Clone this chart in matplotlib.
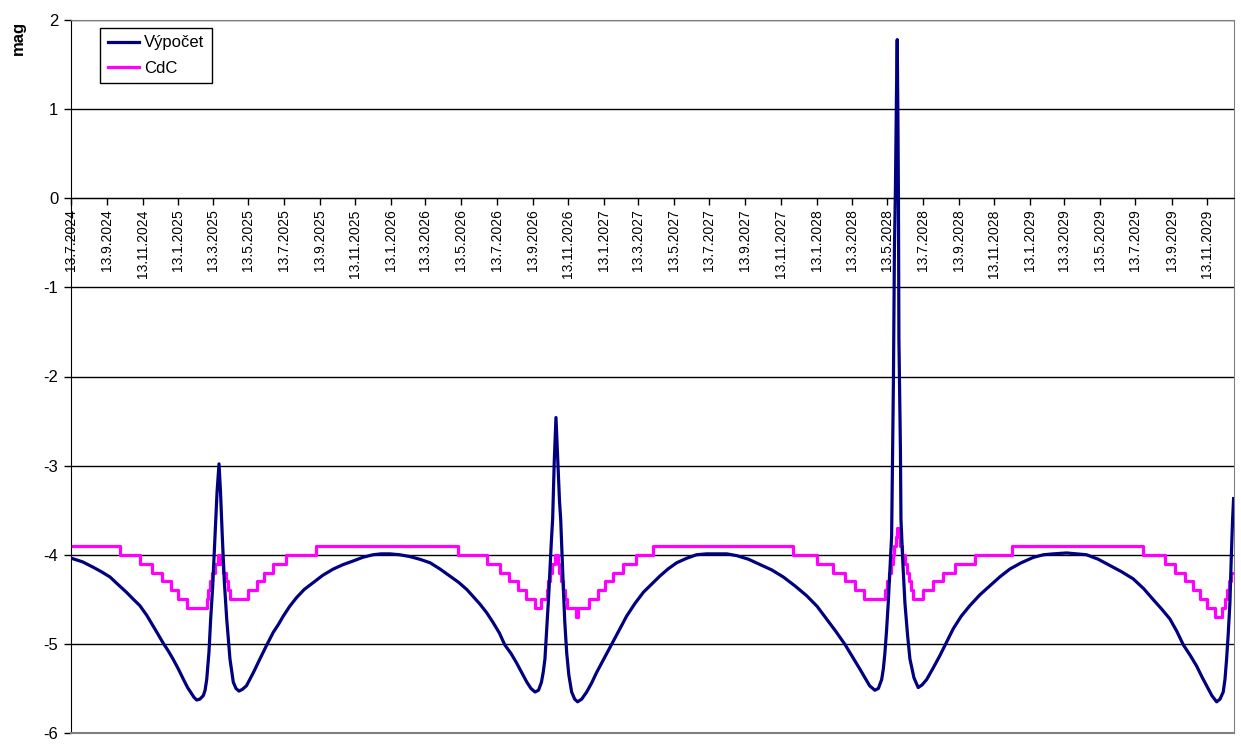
import matplotlib
matplotlib.use('Agg')
import matplotlib.pyplot as plt
import pandas as pd

plt.rcParams['font.family'] = ['Liberation Sans', 'DejaVu Sans']

start = pd.Timestamp('2024-07-13')

# Výpočet (calculated magnitude): days since 13.7.2024, magnitude
vyp_days = [1, 20, 38, 52, 67, 80, 95, 107, 118, 130, 141, 150, 158, 167, 175, 184,
            193, 200, 207, 211, 215.6, 221, 227, 230, 232.8, 236.7, 239.6, 243.1,
            247, 250.5, 253.9, 256.5, 259.5, 263, 267.1, 272.7, 278.4, 283, 288.2,
            294, 301, 313, 324, 336, 347, 356, 364, 375, 387, 400, 416, 432, 450,
            467, 484, 500, 518, 532, 547, 564, 581, 598, 616, 633, 650, 665, 679,
            690, 701, 713, 724, 735, 744, 755, 764, 773, 782, 789, 796, 802, 807,
            810, 813, 815, 817, 819.5, 821.6, 824, 826.2, 829, 831.9, 835, 838, 840,
            844.4, 847, 850.3, 854, 858.8, 864, 869, 876, 884.6, 893, 901.7, 914,
            927, 940, 953, 967, 982, 996, 1010, 1024, 1039, 1056, 1073, 1090, 1108,
            1125, 1142, 1162, 1182, 1202, 1222, 1242, 1262, 1280, 1296, 1312, 1328,
            1341, 1353, 1362, 1370, 1379, 1385, 1390.6, 1393.5, 1396.2, 1399,
            1401.9, 1405, 1407.7, 1410.8, 1412.5, 1414.2, 1415.9, 1417.3, 1418.5,
            1419.4, 1420.2, 1421.1, 1422.8, 1423.7, 1427, 1430.5, 1435, 1439.1,
            1446, 1453.3, 1460, 1467.8, 1479, 1490.6, 1502, 1513.4, 1527, 1542,
            1559, 1576, 1593, 1610.6, 1630, 1650.6, 1668, 1685, 1708, 1725, 1742,
            1762, 1782, 1802, 1822, 1840, 1856, 1871, 1885, 1897, 1908, 1920, 1931,
            1940, 1948, 1957, 1965.2, 1971, 1976.5, 1979.5, 1982.3, 1985, 1988,
            1990.5, 1992.6, 1994.3]
vyp_mag = [-4.04, -4.08, -4.14, -4.19, -4.25, -4.33, -4.42, -4.50, -4.57, -4.68, -4.80,
           -4.90, -4.99, -5.08, -5.17, -5.28, -5.40, -5.49, -5.56, -5.60, -5.63, -5.62,
           -5.58, -5.52, -5.40, -5.09, -4.72, -4.35, -3.79, -3.30, -2.98, -3.30,
           -3.79, -4.30, -4.72, -5.17, -5.43, -5.50, -5.53, -5.51, -5.47, -5.32,
           -5.17, -5.01, -4.87, -4.78, -4.69, -4.58, -4.48, -4.39, -4.31, -4.23,
           -4.16, -4.11, -4.07, -4.03, -4.00, -3.99, -3.99, -4.00, -4.02, -4.05,
           -4.09, -4.16, -4.24, -4.31, -4.39, -4.47, -4.55, -4.65, -4.76, -4.88,
           -5.01, -5.11, -5.21, -5.32, -5.43, -5.50, -5.54, -5.52, -5.43, -5.32,
           -5.17, -4.95, -4.72, -4.45, -4.16, -3.85, -3.60, -2.95, -2.46, -2.95,
           -3.40, -3.60, -4.35, -4.75, -5.10, -5.35, -5.54, -5.62, -5.65, -5.62,
           -5.54, -5.44, -5.32, -5.17, -5.01, -4.85, -4.69, -4.55, -4.42, -4.33,
           -4.24, -4.16, -4.09, -4.04, -4.00, -3.99, -3.99, -3.99, -4.01, -4.05,
           -4.11, -4.17, -4.25, -4.35, -4.46, -4.58, -4.72, -4.86, -5.01, -5.15,
           -5.28, -5.38, -5.47, -5.52, -5.50, -5.40, -5.28, -5.10, -4.85, -4.54,
           -4.15, -3.79, -2.03, -0.57, 0.10, 1.11, 1.78, 0.89, -0.01, -1.58,
           -2.03, -2.82, -3.60, -4.10, -4.54, -4.90, -5.17, -5.38, -5.49, -5.46,
           -5.40, -5.27, -5.13, -4.98, -4.83, -4.69, -4.57, -4.45, -4.35, -4.25,
           -4.16, -4.09, -4.03, -4.00, -3.99, -3.98, -3.99, -4.00, -4.05, -4.12,
           -4.19, -4.27, -4.38, -4.50, -4.61, -4.72, -4.86, -5.01, -5.13, -5.25,
           -5.37, -5.47, -5.58, -5.65, -5.62, -5.54, -5.40, -5.17, -4.90, -4.54,
           -4.00, -3.60, -3.37]

# CdC: days since 13.7.2024 where the value changes, and the new value
cdc_days = [0, 84.0, 118.4, 138.4, 156.1, 171.5, 184.0, 199.0, 232.8, 235.8, 238.4,
            241.8, 247.0, 252.7, 256.4, 260.7, 265.9, 269.3, 272.7, 304.1, 319.0,
            331.9, 347.0, 368.8, 420.2, 664.3, 713.0, 735.8, 751.8, 767.2, 780.4,
            796.7, 806.2, 815.9, 819.0, 822.5, 825.9, 831.0, 835.3, 837.9, 841.3,
            843.9, 848.2, 851.6, 867.1, 870.5, 889.0, 904.5, 916.0, 930.2, 947.3,
            969.1, 998.8, 1238.9, 1279.1, 1307.5, 1327.6, 1344.7, 1361.1, 1396.2,
            1400.5, 1403.9, 1407.4, 1409.9, 1412.5, 1415.1, 1417.7, 1420.2, 1422.8,
            1426.2, 1430.5, 1434.8, 1438.2, 1441.7, 1444.8, 1461.9, 1479.1, 1496.2,
            1516.3, 1550.6, 1613.5, 1839.3, 1876.5, 1893.7, 1910.8, 1925.0, 1936.5,
            1948.0, 1962.3, 1973.8, 1979.4, 1982.8, 1986.3, 1990.6, 1994.8]
cdc_mag = [-3.9, -4.0, -4.1, -4.2, -4.3, -4.4, -4.5, -4.6, -4.5, -4.4, -4.3,
           -4.2, -4.1, -4.0, -4.1, -4.2, -4.3, -4.4, -4.5, -4.4, -4.3,
           -4.2, -4.1, -4.0, -3.9, -4.0, -4.1, -4.2, -4.3, -4.4, -4.5,
           -4.6, -4.5, -4.4, -4.3, -4.2, -4.1, -4.0, -4.1, -4.2, -4.3,
           -4.4, -4.5, -4.6, -4.7, -4.6, -4.5, -4.4, -4.3, -4.2, -4.1,
           -4.0, -3.9, -4.0, -4.1, -4.2, -4.3, -4.4, -4.5, -4.4,
           -4.3, -4.2, -4.1, -4.0, -3.9, -3.8, -3.7, -3.8, -3.9,
           -4.0, -4.1, -4.2, -4.3, -4.4, -4.5, -4.4, -4.3, -4.2,
           -4.1, -4.0, -3.9, -4.0, -4.1, -4.2, -4.3, -4.4, -4.5,
           -4.6, -4.7, -4.6, -4.5, -4.4, -4.3, -4.2, -4.2]

tick_labels = ['13.7.2024', '13.9.2024', '13.11.2024', '13.1.2025', '13.3.2025',
               '13.5.2025', '13.7.2025', '13.9.2025', '13.11.2025', '13.1.2026',
               '13.3.2026', '13.5.2026', '13.7.2026', '13.9.2026', '13.11.2026',
               '13.1.2027', '13.3.2027', '13.5.2027', '13.7.2027', '13.9.2027',
               '13.11.2027', '13.1.2028', '13.3.2028', '13.5.2028', '13.7.2028',
               '13.9.2028', '13.11.2028', '13.1.2029', '13.3.2029', '13.5.2029',
               '13.7.2029', '13.9.2029', '13.11.2029']
y_ticks = [2, 1, 0, -1, -2, -3, -4, -5, -6]

vyp_dates = start + pd.to_timedelta(vyp_days, unit='D')
cdc_dates = start + pd.to_timedelta(cdc_days, unit='D')
tick_pos = pd.to_datetime(tick_labels, format='%d.%m.%Y')

fig = plt.figure(figsize=(12.41, 7.47), dpi=100)
ax = fig.add_axes([71/1241, 1-733/747, (1234-71)/1241, (733-20)/747])

ax.plot(vyp_dates, vyp_mag, color='#000080', lw=2.3, label='Výpočet', zorder=3)
ax.step(cdc_dates, cdc_mag, where='post', color='#FF00FF', lw=2.3, label='CdC', zorder=2.5)

ax.set_xlim(start, start + pd.Timedelta(days=1995))
ax.set_ylim(-6, 2)
ax.set_yticks(y_ticks)
ax.set_yticklabels([str(v) for v in y_ticks])
ax.set_xticks(tick_pos)
ax.set_xticklabels(tick_labels, fontsize=10.5)
ax.tick_params(axis='x', labelrotation=90)
for lab in ax.get_xticklabels():
    lab.set_rotation(90)
    lab.set_ha('center')
    lab.set_va('top')
ax.yaxis.grid(True, color='black', lw=1)
ax.set_axisbelow(True)

ax.spines['bottom'].set_position(('data', 0))
ax.spines['bottom'].set_color('black')
ax.spines['left'].set_color('black')
ax.spines['top'].set_color('#808080')
ax.spines['right'].set_color('#808080')
ax.axhline(-6, color='#808080', lw=1.5, clip_on=False, zorder=4)

ax.tick_params(axis='x', direction='out', length=5, width=1, pad=3)
ax.tick_params(axis='y', direction='out', length=5, width=1, labelsize=12, pad=4)

fig.text(18/1241, 1-38/747, 'mag', rotation=90, fontweight='bold', fontsize=12,
         ha='center', va='center')

leg = ax.legend(loc='upper left', bbox_to_anchor=(100/1241, 1-28/747),
                bbox_transform=fig.transFigure, fontsize=12, frameon=True,
                fancybox=False, edgecolor='black', framealpha=1,
                handlelength=1.9, handletextpad=0.3, borderpad=0.45,
                labelspacing=0.62, borderaxespad=0)
leg.get_frame().set_linewidth(1)

fig.savefig('out.png', dpi=100)
